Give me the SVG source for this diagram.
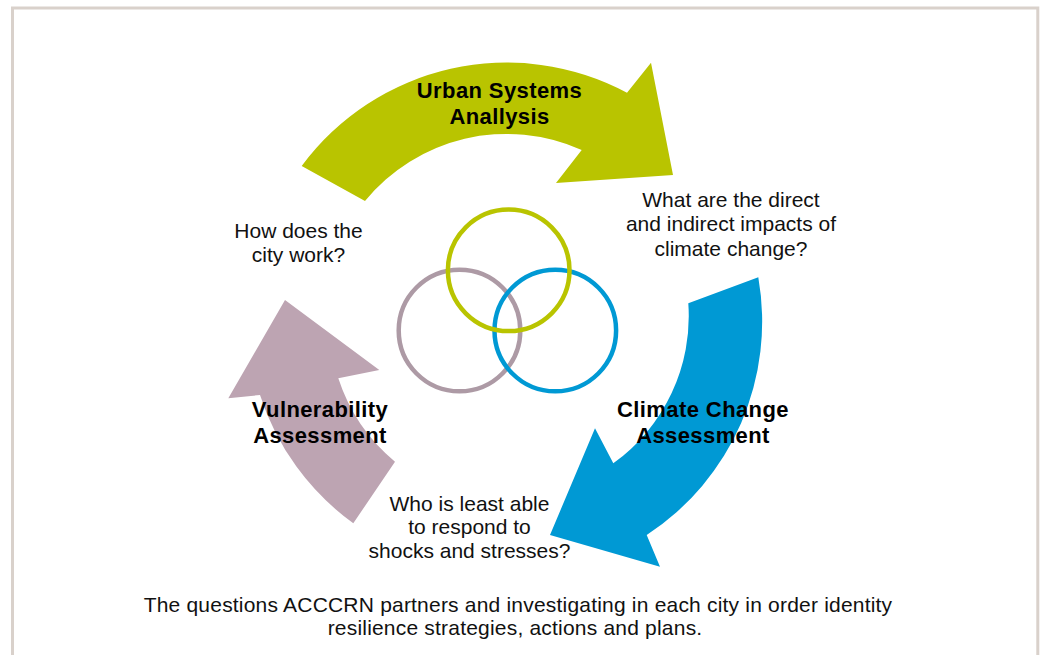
<svg xmlns="http://www.w3.org/2000/svg" width="1043" height="655" viewBox="0 0 1043 655">
  <style>
    .q { font-family: "Liberation Sans", Arial, sans-serif; font-size: 21px; fill: #111; text-anchor: middle; }
    .lbl { font-family: "Liberation Sans", Arial, sans-serif; font-size: 22px; font-weight: bold; letter-spacing: 0.4px; fill: #000; text-anchor: middle; }
    .cap { font-family: "Liberation Sans", Arial, sans-serif; font-size: 21px; fill: #111; text-anchor: middle; letter-spacing: 0.2px; }
    .ring { fill: none; stroke-width: 4.5; }
  </style>
  <rect x="0" y="0" width="1043" height="655" fill="#ffffff"/>
  <rect id="frame" x="12.5" y="8" width="1025.3" height="720" fill="none" stroke="#d9d1cb" stroke-width="3"/>

  <g id="connectors">
    <path id="arrow-urban" fill="#b9c400" d="M 301.7,166 A 255 255 0 0 1 627,92.7 L 651,62.7 L 673,175 L 556,183 L 581.7,150 A 183 183 0 0 0 365,201 Z"/>
    <path id="arrow-climate" fill="#0099d4" d="M 758.3,277.3 A 255 255 0 0 1 646.7,535 L 660,566.7 L 550,535 L 595,428.3 L 613.3,463.3 A 181 181 0 0 0 688.3,303.3 Z"/>
    <path id="arrow-vuln" fill="#bda4b2" d="M 353.3,523.3 A 255 255 0 0 1 260,395 L 228.3,398.3 L 285,300 L 379.3,370 L 338.3,378.3 A 181 181 0 0 0 395,461.7 Z"/>
  </g>

  <g id="rings">
    <circle id="ring-vuln" class="ring" cx="459.5" cy="330.5" r="60.8" stroke="#ad9aa5"/>
    <circle id="ring-climate" class="ring" cx="555.3" cy="330.5" r="60.8" stroke="#0099d4"/>
    <circle id="ring-urban" class="ring" cx="508.7" cy="270.3" r="60.8" stroke="#b9c400"/>
  </g>

  <g id="node-urban">
    <text class="lbl" x="499.5" y="98.3">Urban Systems</text>
    <text class="lbl" x="499.5" y="124">Anallysis</text>
  </g>
  <g id="node-climate">
    <text class="lbl" x="703" y="416.7">Climate Change</text>
    <text class="lbl" x="703" y="443.3">Assessment</text>
  </g>
  <g id="node-vuln">
    <text class="lbl" x="320" y="416.7">Vulnerability</text>
    <text class="lbl" x="320" y="443.3">Assessment</text>
  </g>

  <g id="question-city">
    <text class="q" x="298.5" y="237.7">How does the</text>
    <text class="q" x="298.5" y="261.7">city work?</text>
  </g>
  <g id="question-impacts">
    <text class="q" x="731" y="206.7">What are the direct</text>
    <text class="q" x="731" y="231.2">and indirect impacts of</text>
    <text class="q" x="731" y="255.5">climate change?</text>
  </g>
  <g id="question-who">
    <text class="q" x="469.5" y="511">Who is least able</text>
    <text class="q" x="469.5" y="534.3">to respond to</text>
    <text class="q" x="469.5" y="557.5">shocks and stresses?</text>
  </g>

  <g id="caption">
    <text class="cap" x="518" y="611.7">The questions ACCCRN partners and investigating in each city in order identity</text>
    <text class="cap" x="515" y="635">resilience strategies, actions and plans.</text>
  </g>
</svg>
